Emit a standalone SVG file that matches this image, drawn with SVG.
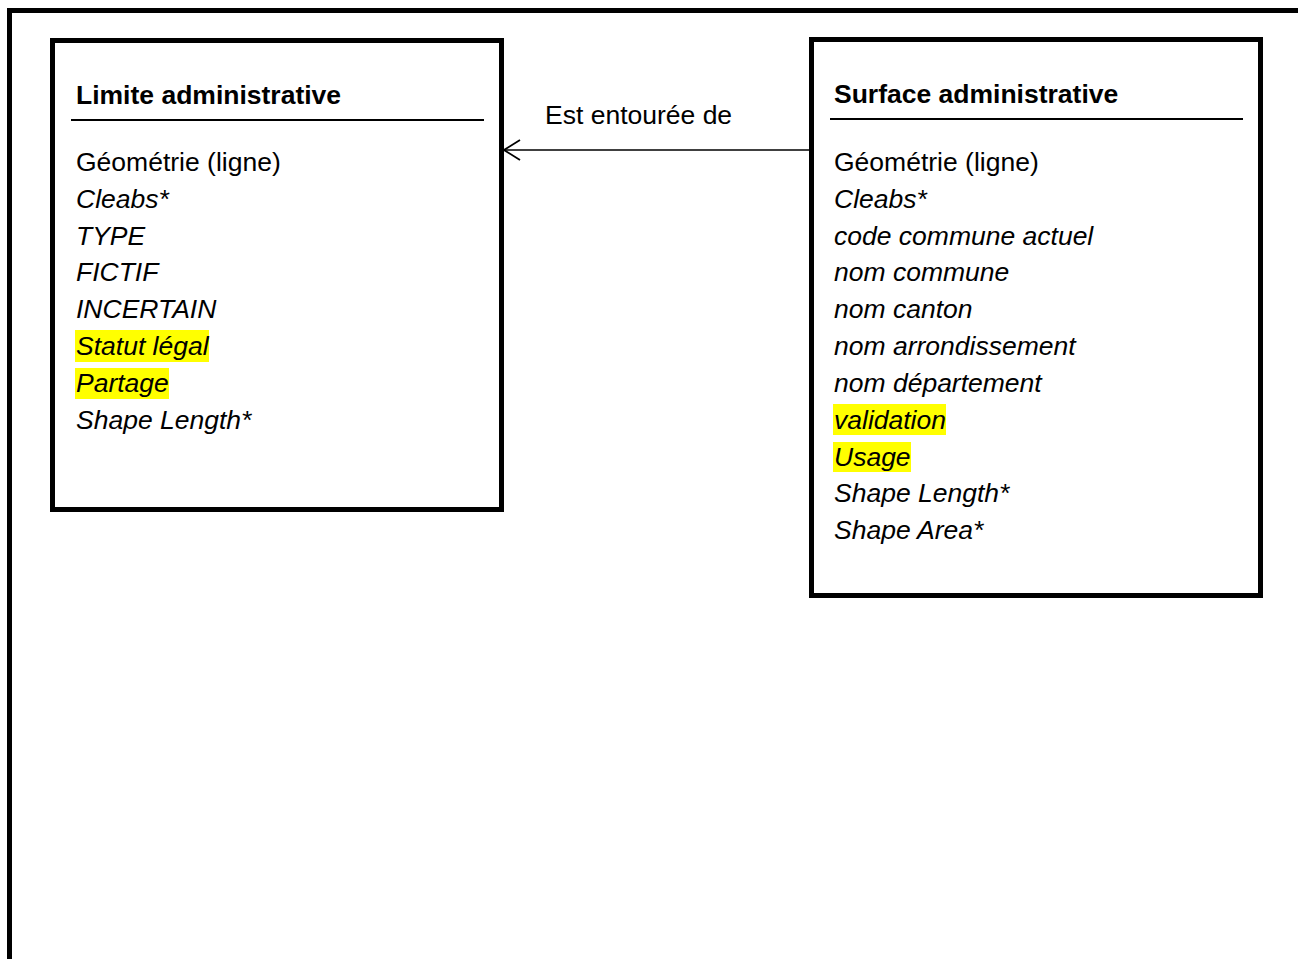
<svg xmlns="http://www.w3.org/2000/svg" width="1298" height="959" viewBox="0 0 1298 959">
<defs>
<style>
.frame{fill:none;stroke:#000;stroke-width:5}
.box{fill:#fff;stroke:#000;stroke-width:5}
.sep{stroke:#000;stroke-width:2}
.t{font-family:"Liberation Sans",Arial,sans-serif;font-size:26.5px;fill:#000}
.b{font-weight:bold}
.i{font-style:italic}
.hl{fill:#ffff00}
.conn{stroke:#000;stroke-width:1.5;fill:none}
</style>
<marker id="open" viewBox="0 0 20 22" refX="19" refY="11" markerWidth="20" markerHeight="22" markerUnits="userSpaceOnUse" orient="auto">
<path d="M3,1 L19,11 L3,21" fill="none" stroke="#000" stroke-width="1.8"/>
</marker>
</defs>
<rect width="1298" height="959" fill="#fff"/>
<rect class="frame" x="9.5" y="10.5" width="1400" height="1000"/>
<g id="limite">
<rect class="box" x="52.5" y="40.5" width="449" height="469"/>
<line class="sep" x1="71" y1="120" x2="484" y2="120"/>
<text class="t b" x="76" y="104">Limite administrative</text>
<rect class="hl" x="75" y="330" width="134" height="32"/>
<rect class="hl" x="75" y="368" width="94" height="31"/>
<text class="t" x="76" y="171">Géométrie (ligne)</text>
<text class="t i" x="76" y="208">Cleabs*</text>
<text class="t i" x="76" y="245">TYPE</text>
<text class="t i" x="76" y="281">FICTIF</text>
<text class="t i" x="76" y="318">INCERTAIN</text>
<text class="t i" x="76" y="355">Statut légal</text>
<text class="t i" x="76" y="392">Partage</text>
<text class="t i" x="76" y="429">Shape Length*</text>
</g>
<g id="surface">
<rect class="box" x="811.5" y="39.5" width="449" height="556"/>
<line class="sep" x1="830" y1="119" x2="1243" y2="119"/>
<text class="t b" x="834" y="103">Surface administrative</text>
<rect class="hl" x="833" y="404" width="113" height="31"/>
<rect class="hl" x="833" y="442" width="78" height="30"/>
<text class="t" x="834" y="171">Géométrie (ligne)</text>
<text class="t i" x="834" y="208">Cleabs*</text>
<text class="t i" x="834" y="245">code commune actuel</text>
<text class="t i" x="834" y="281">nom commune</text>
<text class="t i" x="834" y="318">nom canton</text>
<text class="t i" x="834" y="355">nom arrondissement</text>
<text class="t i" x="834" y="392">nom département</text>
<text class="t i" x="834" y="429">validation</text>
<text class="t i" x="834" y="466">Usage</text>
<text class="t i" x="834" y="502">Shape Length*</text>
<text class="t i" x="834" y="539">Shape Area*</text>
</g>
<g id="connectors">
<line class="conn" x1="809" y1="150" x2="504" y2="150" marker-end="url(#open)"/>
<text class="t" x="545" y="124">Est entourée de</text>
</g>
</svg>
